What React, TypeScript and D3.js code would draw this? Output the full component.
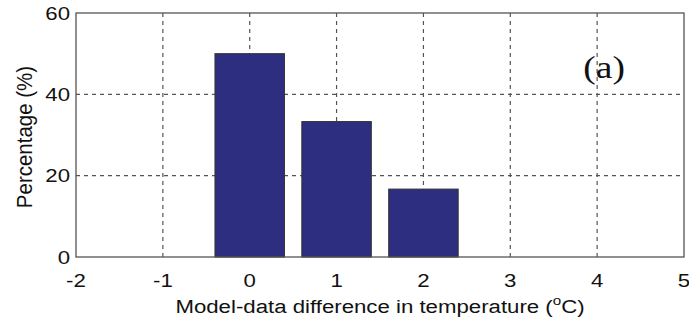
import * as d3 from "d3"

const diffs = [0, 1, 2]
const percents = [50, 33.3, 16.7]
const xTicks = [-2, -1, 0, 1, 2, 3, 4, 5]
const yTicks = [0, 20, 40, 60]

const font = "'Liberation Sans', Arial, sans-serif"
const sx = 1.17 // the source picture is a bit stretched horizontally

function Label(props: {
  x: number
  y: number
  anchor?: string
  size?: number
  family?: string
  dy?: string
  children: any
}) {
  return (
    <text
      transform={`translate(${props.x},${props.y}) scale(${sx},1)`}
      dy={props.dy}
      textAnchor={props.anchor ?? "middle"}
      fontFamily={props.family ?? font}
      fontSize={props.size ?? 19}
      fill="#111"
    >
      {props.children}
    </text>
  )
}

export default function App() {
  const width = 689
  const height = 324
  const margin = {top: 13, right: 5, bottom: 67, left: 76}
  const innerW = width - margin.left - margin.right
  const innerH = height - margin.top - margin.bottom

  const x = d3.scaleLinear().domain([-2, 5]).range([0, innerW])
  const y = d3.scaleLinear().domain([0, 60]).range([innerH, 0])
  const barW = x(0.8) - x(0)

  return (
    <svg
      width={width}
      height={height}
      style={{position: "absolute", left: 0, top: 0, background: "#fff"}}
    >
      <g transform={`translate(${margin.left},${margin.top})`}>
        {/* grid */}
        {xTicks.slice(1, -1).map((t) => (
          <line
            key={"gx" + t}
            x1={x(t)}
            x2={x(t)}
            y1={0}
            y2={innerH}
            stroke="#555"
            strokeWidth={1.2}
            strokeDasharray="4,4"
          />
        ))}
        {yTicks.slice(1, -1).map((t) => (
          <line
            key={"gy" + t}
            x1={0}
            x2={innerW}
            y1={y(t)}
            y2={y(t)}
            stroke="#555"
            strokeWidth={1.2}
            strokeDasharray="4,4"
          />
        ))}
        {/* bars */}
        {diffs.map((d, i) => (
          <rect
            key={d}
            x={x(d) - barW / 2}
            y={y(percents[i])}
            width={barW}
            height={innerH - y(percents[i])}
            fill="#2d2e7f"
            stroke="#333"
            strokeWidth={1}
          />
        ))}
        {/* box */}
        <rect
          x={0}
          y={0}
          width={innerW}
          height={innerH}
          fill="none"
          stroke="#555"
          strokeWidth={1.3}
        />
        {/* tick labels */}
        {xTicks.map((t) => (
          <Label key={"tx" + t} x={x(t)} y={innerH + 30}>
            {t}
          </Label>
        ))}
        {yTicks.map((t) => (
          <Label key={"ty" + t} x={-6} y={y(t)} dy="0.35em" anchor="end">
            {t}
          </Label>
        ))}
        <Label x={innerW / 2} y={innerH + 56}>
          Model-data difference in temperature (
          <tspan dy={-8} fontSize={13}>
            o
          </tspan>
          <tspan dy={8}>C)</tspan>
        </Label>
        <text
          transform={`translate(${-44},${innerH / 2 + 2}) rotate(-90) scale(1,1.12)`}
          textAnchor="middle"
          fontFamily={font}
          fontSize={20.5}
          fill="#111"
        >
          Percentage (%)
        </text>
        <Label
          x={x(4.08)}
          y={65}
          size={32}
          family="'Liberation Serif', 'Times New Roman', serif"
        >
          (a)
        </Label>
      </g>
    </svg>
  )
}
